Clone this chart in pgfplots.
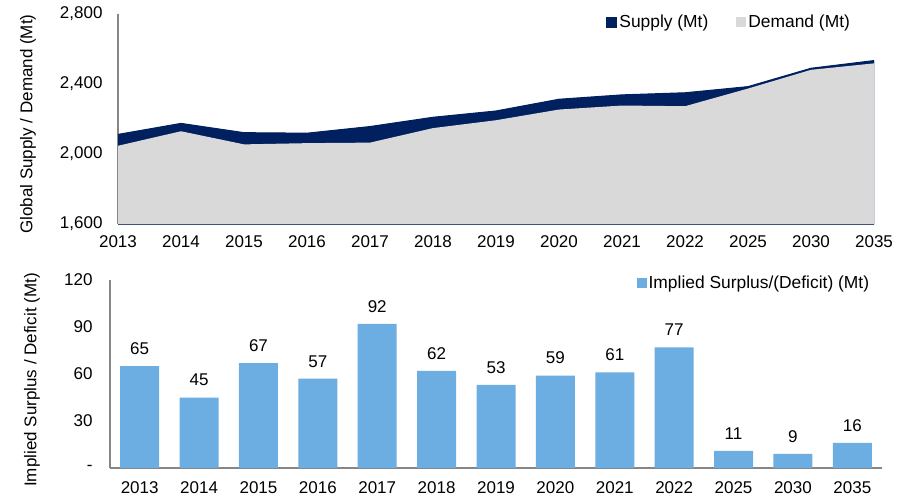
\documentclass[border=0pt]{standalone}
\usepackage{fontspec}
\setmainfont{Liberation Sans}
\usepackage{pgfplots}
\pgfplotsset{compat=1.18}

\definecolor{supplyc}{HTML}{002060}
\definecolor{demandc}{HTML}{D9D9D9}
\definecolor{barc}{HTML}{6CADE2}
\definecolor{axisgray}{HTML}{868686}

\pgfplotsset{
  panel/.style={
    scale only axis,
    anchor=south west,
    axis lines=left,
    axis line style={draw=axisgray, line width=1.2pt, -},
    major tick length=0pt,
    tick label style={font=\fontsize{17pt}{20pt}\selectfont},
    /pgf/number format/assume math mode=true,
    /pgf/number format/1000 sep={,},
    xtick={0,...,12},
    xticklabels={2013,2014,2015,2016,2017,2018,2019,2020,2021,2022,2025,2030,2035},
    legend style={draw=none, fill=none, font=\fontsize{17.4pt}{20pt}\selectfont,
      /tikz/every even column/.append style={column sep=26pt}},
  },
  square legend/.style={
    legend image code/.code={\fill[##1] (0pt,-5pt) rectangle (10pt,5pt);},
  },
}

\begin{document}
\begin{tikzpicture}[x=1pt,y=1pt]
\path (0,0) rectangle (907,-498);

% top panel: supply and demand
\begin{axis}[panel,
    at={(118pt,-224pt)},
    width=756pt, height=210pt,
    xmin=0, xmax=12,
    ymin=1600, ymax=2800,
    ytick={1600,2000,2400,2800},
    yticklabel shift=12pt,
    xticklabel shift=8pt,
    ylabel={Global Supply / Demand (Mt)},
    every axis y label/.style={at={(axis description cs:-0.119,0.476)}, rotate=90, anchor=center,
      font=\fontsize{17pt}{20pt}\selectfont},
    legend columns=2,
    legend style={at={(axis description cs:0.975,1.015)}, anchor=north east},
    square legend,
  ]
  \addplot[fill=supplyc, draw=supplyc, line width=1pt] coordinates {
      (0,2112) (1,2175) (2,2122) (3,2119) (4,2157) (5,2210) (6,2246)
      (7,2313) (8,2338) (9,2350) (10,2385) (11,2490) (12,2534)
    } \closedcycle;
  \addlegendentry{Supply (Mt)}
  \addplot[fill=demandc, draw=none] coordinates {
      (0,2047) (1,2130) (2,2055) (3,2062) (4,2065) (5,2148) (6,2193)
      (7,2254) (8,2277) (9,2273) (10,2374) (11,2481) (12,2518)
    } \closedcycle;
  \addlegendentry{Demand (Mt)}
\end{axis}

% bottom panel: implied surplus
\begin{axis}[panel,
    at={(110pt,-468pt)},
    width=772pt, height=188pt,
    xmin=-0.5, xmax=12.5,
    ymin=0, ymax=120,
    ytick={0,30,60,90,120},
    yticklabels={-,30,60,90,120},
    yticklabel shift=14pt,
    xticklabel shift=10pt,
    ylabel={Implied Surplus / Deficit (Mt)},
    every axis y label/.style={at={(axis description cs:-0.101,0.468)}, rotate=90, anchor=center,
      font=\fontsize{17pt}{20pt}\selectfont},
    legend style={at={(axis description cs:0.99,1.045)}, anchor=north east},
    ybar, bar width=39pt,
    square legend,
    nodes near coords,
    every node near coord/.append style={font=\fontsize{17pt}{20pt}\selectfont, yshift=8pt},
  ]
  \addplot[fill=barc, draw=none] coordinates {
      (0,65) (1,45) (2,67) (3,57) (4,92) (5,62) (6,53)
      (7,59) (8,61) (9,77) (10,11) (11,9) (12,16)
    };
  \addlegendentry{Implied Surplus/(Deficit) (Mt)}
\end{axis}
\end{tikzpicture}
\end{document}
